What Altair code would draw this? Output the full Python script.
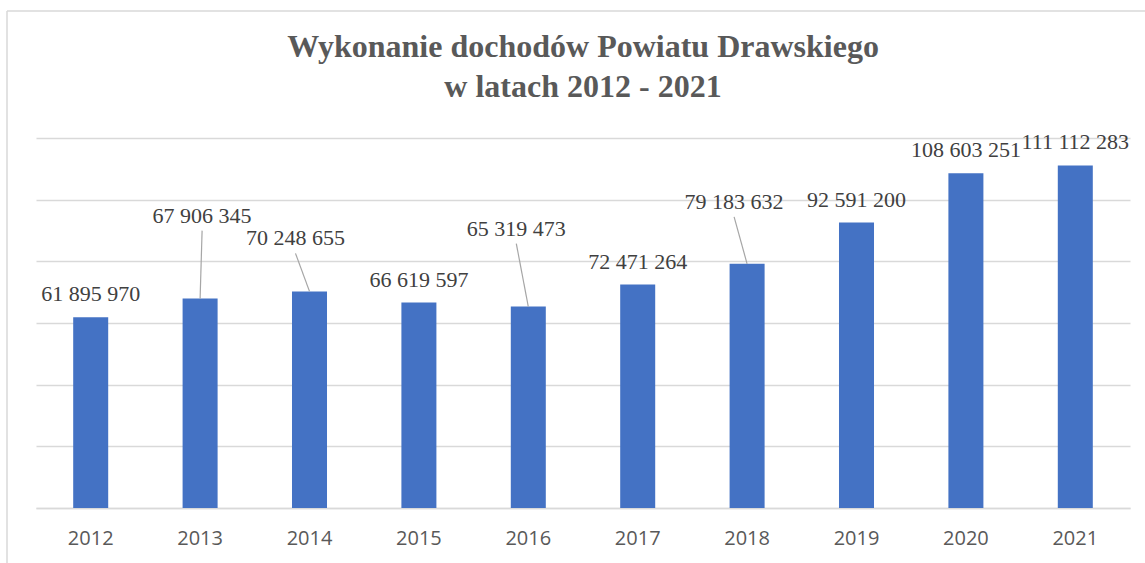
import altair as alt
import pandas as pd

years = ["2012", "2013", "2014", "2015", "2016", "2017", "2018", "2019", "2020", "2021"]
values = [61895970, 67906345, 70248655, 66619597, 65319473, 72471264, 79183632, 92591200, 108603251, 111112283]
labels = [f"{v:,}".replace(",", " ") for v in values]
title_lines = ["Wykonanie dochodów Powiatu Drawskiego", "w latach 2012 - 2021"]
y_ticks = [0, 20000000, 40000000, 60000000, 80000000, 100000000, 120000000]

df = pd.DataFrame({"Year": years, "Value": values, "Label": labels})

# manually placed data labels (Excel callouts): pixel offsets from bar top
callouts = {"2013": (2, -83), "2014": (-14, -53), "2016": (-12, -78), "2018": (-13, -62)}

W, H = 1094, 370
xenc = alt.X("Year:N", title=None,
             scale=alt.Scale(paddingInner=0.68, paddingOuter=0.34),
             axis=alt.Axis(labelAngle=0, labelFont="Open Sans", labelFontSize=20,
                           labelColor="#595959", labelPadding=20, ticks=False,
                           domainColor="#d9d9d9", domainWidth=1.5, grid=False))
yenc = alt.Y("Value:Q", title=None,
             scale=alt.Scale(domain=[0, 120000000], nice=False),
             axis=alt.Axis(values=y_ticks, labels=False, ticks=False, domain=False,
                           grid=True, gridColor="#d9d9d9", gridWidth=1.5))

base = alt.Chart(df)
bars = base.mark_bar(color="#4472C4").encode(x=xenc, y=yenc)

txt_style = dict(font="Liberation Serif", fontSize=22, color="#404040", baseline="middle", align="center")

plain = base.transform_filter(
    alt.FieldOneOfPredicate(field="Year", oneOf=[y for y in years if y not in callouts])
).mark_text(dy=-23, **txt_style).encode(x="Year:N", y="Value:Q", text="Label:N")

layers = [bars, plain]
for yr, (dx, dy) in callouts.items():
    sub = base.transform_filter(alt.datum.Year == yr)
    layers.append(sub.mark_rule(color="#a6a6a6", strokeWidth=1.2, x2Offset=dx, y2Offset=dy + 15)
                  .encode(x="Year:N", x2="Year:N", y="Value:Q", y2="Value:Q"))
    layers.append(sub.mark_text(dx=dx, dy=dy, **txt_style).encode(x="Year:N", y="Value:Q", text="Label:N"))

frame_df = pd.DataFrame({"a": [0]})
frame = alt.Chart(frame_df)
left_border = frame.mark_rule(color="#d9d9d9", strokeWidth=1.5).encode(
    x=alt.value(-29), y=alt.value(-127), y2=alt.value(440))
top_border = frame.mark_rule(color="#d9d9d9", strokeWidth=1.5).encode(
    x=alt.value(-29), x2=alt.value(1120), y=alt.value(-127))
layers += [left_border, top_border]

title_style = dict(font="Liberation Serif", fontSize=32, fontWeight="bold", color="#595959",
                   align="center", baseline="alphabetic")
for i, line in enumerate(title_lines):
    layers.append(frame.mark_text(text=line, **title_style).encode(
        x=alt.value(W / 2), y=alt.value(-81 + 40 * i)))

chart = alt.layer(*layers).properties(
    width=W, height=H,
    background="white",
    autosize=alt.AutoSizeParams(type="none"),
    padding={"left": 36, "top": 138, "right": 15, "bottom": 55},
).configure_view(stroke="transparent", strokeWidth=0)

chart.save("out.html", embed_options={"renderer": "svg", "actions": False})
